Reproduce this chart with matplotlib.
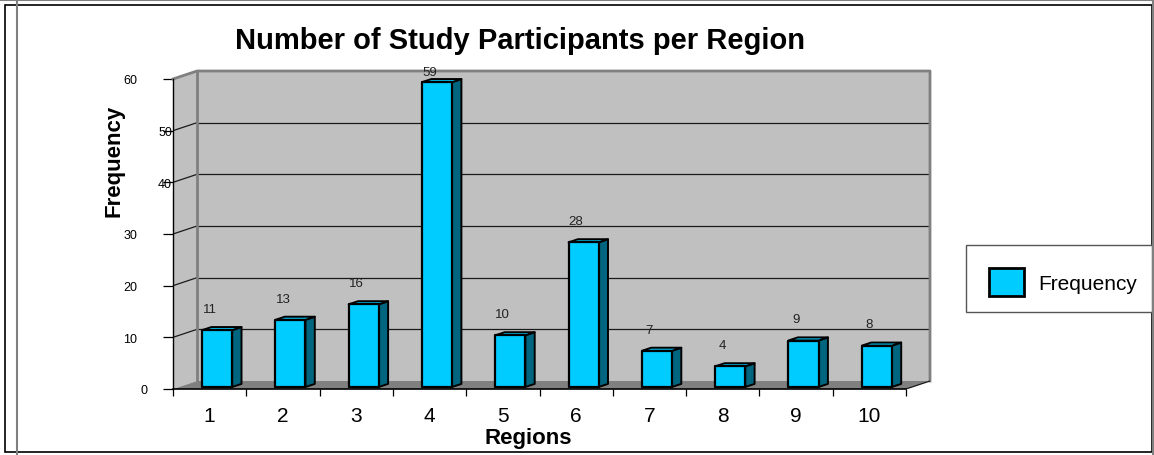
import matplotlib
matplotlib.use('Agg')
import matplotlib.pyplot as plt
from matplotlib.patches import Polygon, Rectangle, Patch
from matplotlib.lines import Line2D
from matplotlib.transforms import ScaledTranslation

plt.rcParams['font.family'] = ['Liberation Sans', 'DejaVu Sans']

# ---------------- DATA ----------------
regions = ['1', '2', '3', '4', '5', '6', '7', '8', '9', '10']
frequency = [11, 13, 16, 59, 10, 28, 7, 4, 9, 8]
y_ticks = [0, 10, 20, 30, 40, 50, 60]

# ---------------- STYLE ----------------
W, H = 1154, 456
WALL = '#C0C0C0'
FLOOR = '#808080'
EDGE = '#808080'
BAR_FRONT = '#00CCFF'
BAR_SIDE = '#006680'
BAR_TOP = '#00C2F2'

DX = 24 / 73.3      # depth shift in category units
DY = 8 / 5.1667     # depth shift in value units
BW = 0.41           # bar width
F0 = 0.25           # bar front depth fraction
DD = 0.39           # bar depth fraction


def px(x, y):
    return x / W, 1 - y / H


fig = plt.figure(figsize=(W / 100, H / 100), dpi=100)

# ---------------- FRAME ----------------
fig.add_artist(Rectangle(px(5, 453), (1152 - 5) / W, (453 - 6) / H,
                         transform=fig.transFigure, fill=False,
                         edgecolor='black', linewidth=1.2))
fig.add_artist(Line2D([0, 1], [1 - 0.5 / H] * 2, transform=fig.transFigure,
                      color='#808080', linewidth=1.5))
fig.add_artist(Line2D([17 / W] * 2, [0, 1], transform=fig.transFigure,
                      color='#808080', linewidth=1.5))
fig.add_artist(Line2D([1152.5 / W] * 2, [0, 1], transform=fig.transFigure,
                      color='#808080', linewidth=1.5))

# ---------------- AXES ----------------
left, bottom = px(173, 390)
ax = fig.add_axes([left, bottom, (930 - 173) / W, (390 - 72) / H])
ax.set_xlim(0, len(regions) + DX)
ax.set_ylim(0, 60 + DY)
ax.set_facecolor('none')
for s in ax.spines.values():
    s.set_visible(False)

n = len(regions)

# walls and floor
ax.add_patch(Polygon([(0, 0), (DX, DY), (DX, 60 + DY), (0, 60)],
                     facecolor=WALL, edgecolor='none', zorder=1))
ax.add_patch(Polygon([(DX, DY), (n + DX, DY), (n + DX, 60 + DY), (DX, 60 + DY)],
                     facecolor=WALL, edgecolor='none', zorder=1))
ax.add_patch(Polygon([(0, 0), (n, 0), (n + DX, DY), (DX, DY)],
                     facecolor=FLOOR, edgecolor='none', zorder=1))

# gridlines
for v in y_ticks[1:-1]:
    ax.plot([0, DX], [v, v + DY], color='#1a1a1a', lw=0.9, zorder=2)
    ax.plot([DX, n + DX], [v + DY, v + DY], color='#1a1a1a', lw=0.9, zorder=2)

# wall edges
ax.plot([DX, DX], [DY, 60 + DY], color=EDGE, lw=2, zorder=2)
ax.plot([0, DX, n + DX, n + DX], [60, 60 + DY, 60 + DY, DY],
        color=EDGE, lw=2, zorder=2, clip_on=False)
ax.plot([n, n + DX], [0, DY], color='#1a1a1a', lw=0.9, zorder=2)

# front axes
ax.plot([0, 0], [0, 60], color='black', lw=1, zorder=3, clip_on=False)
ax.plot([0, n], [0, 0], color='black', lw=1.2, zorder=3, clip_on=False)

# bars
for i, v in enumerate(frequency):
    x0 = i + 0.52 - BW / 2 + F0 * DX
    y0 = F0 * DY
    ddx, ddy = DD * DX, DD * DY
    ax.add_patch(Polygon([(x0 + BW, y0), (x0 + BW + ddx, y0 + ddy),
                          (x0 + BW + ddx, y0 + ddy + v), (x0 + BW, y0 + v)],
                         facecolor=BAR_SIDE, edgecolor='black', lw=1.4,
                         joinstyle='round', zorder=4))
    ax.add_patch(Polygon([(x0, y0 + v), (x0 + BW, y0 + v),
                          (x0 + BW + ddx, y0 + v + ddy), (x0 + ddx, y0 + v + ddy)],
                         facecolor=BAR_TOP, edgecolor='black', lw=1.4,
                         joinstyle='round', zorder=4))
    ax.add_patch(Rectangle((x0, y0), BW, v, facecolor=BAR_FRONT,
                           edgecolor='black', lw=1.6, joinstyle='round', zorder=5))
    ax.text(i + 0.5, min(v + y0 + 4.1, 61.4), str(v), ha='center', va='center',
            fontsize=9.5, color='#222222', zorder=6, clip_on=False)

# ticks
ax.set_yticks(y_ticks)
ax.set_yticklabels([str(t) for t in y_ticks])
ax.tick_params(axis='y', direction='out', length=7.2, width=0.9,
               pad=18.7, labelsize=9, colors='black')
shifts = {0: 10, 40: 35, 50: 35}
for t, lab in zip(y_ticks, ax.get_yticklabels()):
    if t in shifts:
        lab.set_transform(lab.get_transform() +
                          ScaledTranslation(shifts[t] / 100, 0, fig.dpi_scale_trans))

ax.set_xticks(range(n + 1))
ax.set_xticklabels([])
ax.set_xticks([i + 0.5 for i in range(n)], minor=True)
ax.set_xticklabels(regions, minor=True)
ax.tick_params(axis='x', which='major', direction='out', length=5, width=0.9)
ax.tick_params(axis='x', which='minor', length=0, pad=12, labelsize=15)

# ---------------- TEXT ----------------
fig.text(*px(520, 49), 'Number of Study Participants per Region',
         ha='center', va='baseline', fontsize=21, fontweight='bold')
fig.text(*px(114, 161), 'Frequency', rotation=90, ha='center', va='center',
         fontsize=16, fontweight='bold')
fig.text(*px(528, 444), 'Regions', ha='center', va='baseline',
         fontsize=16, fontweight='bold')

# ---------------- LEGEND ----------------
fig.add_artist(Rectangle(px(966, 313), (1152 - 966) / W, (313 - 246) / H,
                         transform=fig.transFigure, facecolor='white',
                         edgecolor='#555555', linewidth=1.0))
fig.legend(handles=[Patch(facecolor=BAR_FRONT, edgecolor='black', linewidth=2)],
           labels=['Frequency'], loc='center left',
           bbox_to_anchor=px(989, 283), frameon=False, borderpad=0,
           fontsize=15, handlelength=1.68, handleheight=1.7,
           handletextpad=0.67, borderaxespad=0)

fig.savefig('out.png', dpi=100)
